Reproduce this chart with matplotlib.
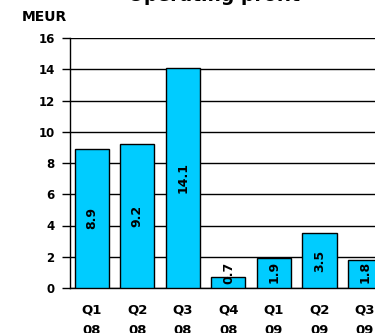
import matplotlib
matplotlib.use("Agg")
import matplotlib.pyplot as plt

# Operating profit per quarter, MEUR
quarters = ["Q1", "Q2", "Q3", "Q4", "Q1", "Q2", "Q3"]
years = ["08", "08", "08", "08", "09", "09", "09"]
profit = [8.9, 9.2, 14.1, 0.7, 1.9, 3.5, 1.8]

bar_color = "#00CCFF"

plt.rcParams["font.family"] = "DejaVu Sans"

fig = plt.figure(figsize=(3.75, 3.33), dpi=100)
ax = fig.add_axes([70 / 375, 45 / 333, 1 - 70 / 375, 250 / 333])

x = list(range(len(profit)))
ax.bar(x, profit, width=0.75, color=bar_color, edgecolor="black", linewidth=1.0, zorder=3)

ax.set_ylim(0, 16)
ax.set_xlim(-0.48, 6.22)
ax.set_yticks(range(0, 17, 2))
ax.yaxis.grid(True, color="black", linewidth=1.0, zorder=0)
ax.set_axisbelow(True)

for s in ["top", "right"]:
    ax.spines[s].set_visible(False)
ax.spines["left"].set_linewidth(1.0)
ax.spines["bottom"].set_linewidth(1.0)

ax.tick_params(axis="y", length=6, width=1.0, pad=5, labelsize=8.5)
for lbl in ax.get_yticklabels():
    lbl.set_fontweight("heavy")

ax.set_xticks(x)
ax.set_xticklabels([f"{q}\n{y}" for q, y in zip(quarters, years)],
                   fontsize=9.5, fontweight="heavy", linespacing=1.8)
ax.tick_params(axis="x", length=0, pad=11)

# value labels inside the bars, rotated
for xi, v in zip(x, profit):
    ax.text(xi, max(v / 2, 1.0), f"{v}", rotation=90, ha="center", va="center",
            fontsize=9, fontweight="bold", color="black", zorder=4)

fig.text(22 / 375, 1 - 17 / 333, "MEUR", fontsize=10, fontweight="heavy",
         ha="left", va="center")
fig.text(214 / 375, 1 - 1 / 333, "Operating profit", fontsize=13.5, fontweight="heavy",
         ha="center", va="baseline")

fig.savefig("out.png", dpi=100)
